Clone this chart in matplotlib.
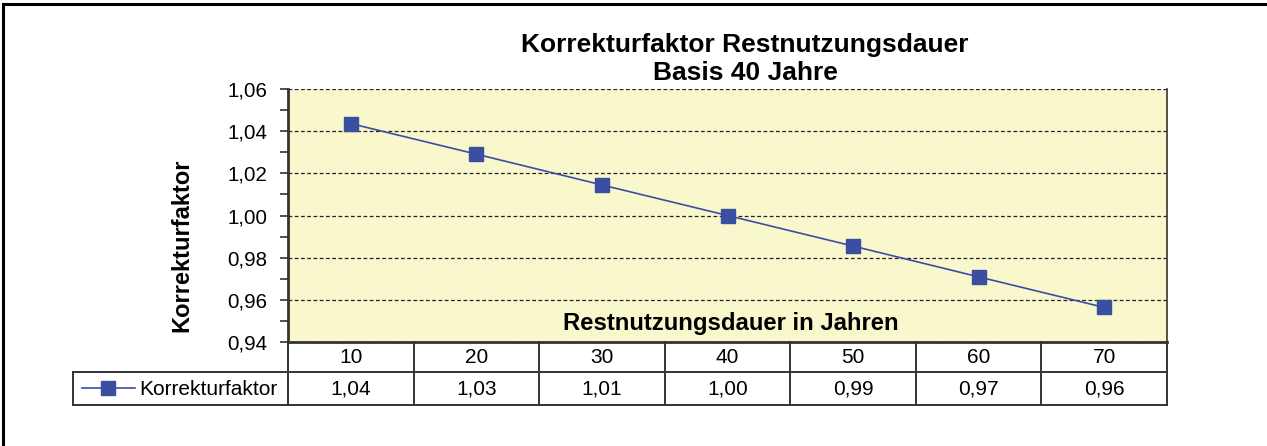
import numpy as np
import matplotlib.pyplot as plt
from matplotlib.lines import Line2D
from matplotlib.ticker import MultipleLocator, FuncFormatter

plt.rcParams['font.family'] = ['Liberation Sans', 'DejaVu Sans']

# Restnutzungsdauer (Jahre) und zugehoeriger Korrekturfaktor
jahre = [10, 20, 30, 40, 50, 60, 70]
faktor = [1.0436, 1.0291, 1.0145, 1.0000, 0.9855, 0.9709, 0.9564]
serie = 'Korrekturfaktor'

W, H = 1267, 446
fig = plt.figure(figsize=(W / 100, H / 100), dpi=100)

def box(l, t, r, b):
    # pixel box (left, top, right, bottom) -> figure fractions
    return [l / W, (H - b) / H, (r - l) / W, (b - t) / H]

blau = '#3A4EA2'
gelb = '#F9F7CC'
rand = '#333333'

# outer frame (top and left edge)
fig.add_artist(Line2D([3 / W, 1], [1 - 4 / H, 1 - 4 / H], color='black', lw=2.2))
fig.add_artist(Line2D([3 / W, 3 / W], [0, 1 - 4 / H], color='black', lw=2.2))

ax = fig.add_axes(box(288, 89, 1167, 342))
ax.set_facecolor(gelb)
x = np.arange(len(jahre))
ax.plot(x, faktor, color=blau, lw=1.2, marker='s', markersize=9.5,
        markerfacecolor=blau, markeredgecolor=blau)
ax.set_xlim(-0.5, len(jahre) - 0.5)
ax.set_ylim(0.94, 1.06)
ax.yaxis.set_major_locator(MultipleLocator(0.02))
ax.yaxis.set_minor_locator(MultipleLocator(0.01))
ax.yaxis.set_major_formatter(FuncFormatter(lambda v, p: f'{v:.2f}'.replace('.', ',')))
ax.tick_params(axis='y', which='both', direction='out', length=6, width=1.2,
               color=rand, labelsize=14.8, pad=9)
ax.set_xticks([])
ax.grid(axis='y', which='major', color='#222222', linestyle=(0, (3, 2)), lw=0.9)
ax.set_axisbelow(True)
ax.spines['top'].set_visible(False)
ax.spines['left'].set_linewidth(2)
ax.spines['left'].set_color(rand)
ax.spines['right'].set_linewidth(1.2)
ax.spines['right'].set_color(rand)
ax.spines['bottom'].set_linewidth(2)
ax.spines['bottom'].set_color(rand)

ax.text(0.504, 0.075, 'Restnutzungsdauer in Jahren', transform=ax.transAxes,
        ha='center', va='center', fontsize=17.2, fontweight='bold')
fig.text(182 / W, 1 - 245 / H, 'Korrekturfaktor', rotation=90, ha='center',
         va='center', fontsize=17, fontweight='bold')
fig.text(745 / W, 1 - 59 / H, 'Korrekturfaktor Restnutzungsdauer\nBasis 40 Jahre',
         ha='center', va='center', fontsize=19, fontweight='bold', linespacing=1.17)

# data table below the plot
tab = fig.add_axes(box(73, 342, 1167, 405))
tab.set_xlim(73, 1167)
tab.set_ylim(405, 342)
tab.axis('off')
n = len(jahre)
grenzen = np.linspace(288, 1167, n + 1)
mitten = (grenzen[:-1] + grenzen[1:]) / 2
r1, r2 = 371.5, 405
kw = dict(color=rand, lw=1.4, clip_on=False)
tab.plot([73, 1167], [r1, r1], **kw)
tab.plot([73, 1167], [r2, r2], **kw)
tab.plot([73, 73], [r1, r2], **kw)
for g in grenzen:
    tab.plot([g, g], [342, r2], **kw)
for m, j, f in zip(mitten, jahre, faktor):
    tab.text(m, (342 + r1) / 2 + 1, str(j), ha='center', va='center', fontsize=15)
    tab.text(m, (r1 + r2) / 2 + 1, f'{f:.2f}'.replace('.', ','), ha='center',
             va='center', fontsize=15)
tab.plot([82, 135], [388, 388], color=blau, lw=1.2)
tab.plot([108], [388], marker='s', markersize=9.5, color=blau)
tab.text(139, 389, serie, ha='left', va='center', fontsize=15)

fig.savefig('out.png', dpi=100)
